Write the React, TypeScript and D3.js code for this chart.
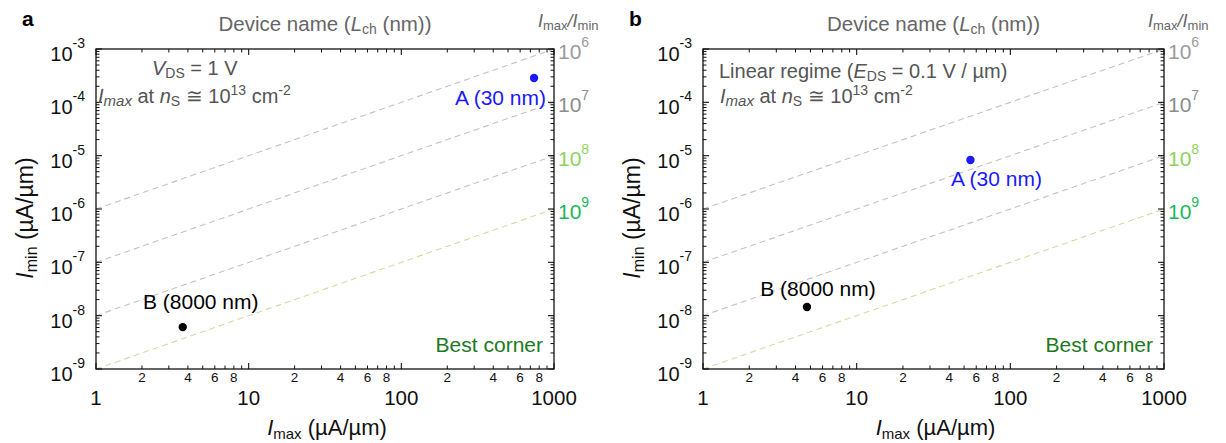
import React from "react";
import * as d3 from "d3";

// ---------- data ----------
const xDomain: [number, number] = [1, 1000];
const yDomain: [number, number] = [1e-9, 1e-3];
const xMajorTicks = [1, 10, 100, 1000];
const yMajorTicks = [1e-3, 1e-4, 1e-5, 1e-6, 1e-7, 1e-8, 1e-9];
const minorMultipliers = [2, 3, 4, 5, 6, 7, 8, 9];
const minorLabelled = [2, 4, 6, 8];

const ratioValues = [1e6, 1e7, 1e8, 1e9];
const ratioLabelColors = ["#9a9a9a", "#8c8c8c", "#8fd35e", "#19b85a"];
const ratioLineColors = ["#c3c3c3", "#c3c3c3", "#c3c3c3", "#cfdca4"];

const panelLetters = ["a", "b"];
const deviceNames = ["A (30 nm)", "B (8000 nm)"];
const deviceColors = ["#1a1aff", "#000000"];
const imaxPanelA = [740, 3.7];
const iminPanelA = [2.85e-4, 6.1e-9];
const imaxPanelB = [55, 4.75];
const iminPanelB = [8.3e-6, 1.45e-8];

// ---------- layout ----------
const FONT = "'Liberation Sans', Arial, Helvetica, sans-serif";
const TOP = 49;
const BOTTOM = 369;

type PanelCfg = {
  left: number;
  width: number;
  imax: number[];
  imin: number[];
  labelOffsets: { dx: number; dy: number; anchor: string }[];
  letter: string;
  kind: "a" | "b";
};

function Panel({ cfg }: { cfg: PanelCfg }) {
  const { left, width, imax, imin, labelOffsets, letter, kind } = cfg;
  const right = left + width;
  const x = d3.scaleLog().domain(xDomain).range([left, right]);
  const y = d3.scaleLog().domain(yDomain).range([BOTTOM, TOP]);

  const xMinor: number[] = [];
  for (let d = 0; d < 3; d++)
    for (const m of minorMultipliers) xMinor.push(m * xMajorTicks[d]);
  const yMinor: number[] = [];
  for (let i = 1; i < yMajorTicks.length; i++)
    for (const m of minorMultipliers) yMinor.push(m * yMajorTicks[i]);

  const majLen = 6;
  const minLen = 3.5;
  const axisColor = "#111";
  const textGrey = "#555";
  const cx = (left + right) / 2;

  return (
    <g>
      {/* panel letter */}
      <text x={left - 74} y={26} fontFamily={FONT} fontWeight="bold" fontSize={21} fill="#000">
        {letter}
      </text>
      {/* top title */}
      <text x={cx} y={31} textAnchor="middle" fontFamily={FONT} fontSize={20.5} fill="#666">
        <tspan>Device name (</tspan>
        <tspan fontStyle="italic">L</tspan>
        <tspan fontSize={14} dy={3}>ch</tspan>
        <tspan dy={-3}> (nm))</tspan>
      </text>
      {/* Imax/Imin */}
      <text x={right - 16} y={27} fontFamily={FONT} fontSize={18} fill="#666">
        <tspan fontStyle="italic">I</tspan>
        <tspan fontSize={13} dy={3}>max</tspan>
        <tspan dy={-3} fontStyle="italic">/I</tspan>
        <tspan fontSize={13} dy={3}>min</tspan>
      </text>

      {/* ratio dashed lines */}
      {ratioValues.map((r, i) => (
        <line
          key={r}
          x1={x(xDomain[0])}
          y1={y(xDomain[0] / r)}
          x2={x(xDomain[1])}
          y2={y(xDomain[1] / r)}
          stroke={ratioLineColors[i]}
          strokeWidth={1.1}
          strokeDasharray="6,4"
        />
      ))}

      {/* frame */}
      <rect x={left} y={TOP} width={width} height={BOTTOM - TOP} fill="none" stroke={axisColor} strokeWidth={1.3} />

      {/* x ticks bottom & top */}
      {xMajorTicks.map((t) => (
        <g key={"xM" + t}>
          <line x1={x(t)} x2={x(t)} y1={BOTTOM} y2={BOTTOM - majLen} stroke={axisColor} strokeWidth={1.1} />
          <line x1={x(t)} x2={x(t)} y1={TOP} y2={TOP + majLen} stroke={axisColor} strokeWidth={1.1} />
          <text x={x(t)} y={405} textAnchor="middle" fontFamily={FONT} fontSize={20.5} fill="#111">
            {t}
          </text>
        </g>
      ))}
      {xMinor.map((t) => {
        const m = Math.round(t / Math.pow(10, Math.floor(Math.log10(t) + 1e-9)));
        return (
          <g key={"xm" + t}>
            <line x1={x(t)} x2={x(t)} y1={BOTTOM} y2={BOTTOM - minLen} stroke={axisColor} strokeWidth={1} />
            <line x1={x(t)} x2={x(t)} y1={TOP} y2={TOP + minLen} stroke={axisColor} strokeWidth={1} />
            {minorLabelled.includes(m) && (
              <text x={x(t)} y={382} textAnchor="middle" fontFamily={FONT} fontSize={13.5} fill="#111">
                {m}
              </text>
            )}
          </g>
        );
      })}

      {/* y ticks left & right */}
      {yMajorTicks.map((t) => {
        const e = Math.round(Math.log10(t));
        return (
          <g key={"yM" + t}>
            <line x1={left} x2={left + majLen} y1={y(t)} y2={y(t)} stroke={axisColor} strokeWidth={1.1} />
            <line x1={right} x2={right - majLen} y1={y(t)} y2={y(t)} stroke={axisColor} strokeWidth={1.1} />
            <text x={left - 11} y={y(t) + 12} textAnchor="end" fontFamily={FONT} fill="#111">
              <tspan fontSize={20}>10</tspan>
              <tspan fontSize={14} dy={-13}>{String(e)}</tspan>
            </text>
          </g>
        );
      })}
      {yMinor.map((t) => (
        <g key={"ym" + t}>
          <line x1={left} x2={left + minLen} y1={y(t)} y2={y(t)} stroke={axisColor} strokeWidth={1} />
          <line x1={right} x2={right - minLen} y1={y(t)} y2={y(t)} stroke={axisColor} strokeWidth={1} />
        </g>
      ))}

      {/* right ratio labels */}
      {ratioValues.map((r, i) => (
        <text key={"rl" + r} x={right + 4} y={y(xDomain[1] / r) + 10} fontFamily={FONT} fill={ratioLabelColors[i]}>
          <tspan fontSize={21}>10</tspan>
          <tspan fontSize={14} dy={-12}>{String(Math.round(Math.log10(r)))}</tspan>
        </text>
      ))}

      {/* axis labels */}
      <text x={cx + 2} y={435} textAnchor="middle" fontFamily={FONT} fontSize={22} fill="#111">
        <tspan fontStyle="italic">I</tspan>
        <tspan fontSize={15} dy={4}>max</tspan>
        <tspan dy={-4}> (µA/µm)</tspan>
      </text>
      <text
        transform={`translate(${left - 63},${218}) rotate(-90)`}
        textAnchor="middle"
        fontFamily={FONT}
        fontSize={23}
        fill="#111"
      >
        <tspan fontStyle="italic">I</tspan>
        <tspan fontSize={16} dy={4}>min</tspan>
        <tspan dy={-4}> (µA/µm)</tspan>
      </text>

      {/* annotations */}
      {kind === "a" ? (
        <text x={left + 56} y={75} fontFamily={FONT} fontSize={20} fill={textGrey}>
          <tspan fontStyle="italic">V</tspan>
          <tspan fontSize={14} dy={3}>DS</tspan>
          <tspan dy={-3}> = 1 V</tspan>
        </text>
      ) : (
        <text x={left + 16} y={78} fontFamily={FONT} fontSize={20} fill={textGrey}>
          <tspan>Linear regime (</tspan>
          <tspan fontStyle="italic">E</tspan>
          <tspan fontSize={14} dy={3}>DS</tspan>
          <tspan dy={-3}> = 0.1 V / µm)</tspan>
        </text>
      )}
      <text x={left + (kind === "a" ? 2 : 17)} y={103} fontFamily={FONT} fontSize={20} fill={textGrey}>
        <tspan fontStyle="italic">I</tspan>
        <tspan fontStyle="italic" fontSize={15} dy={3}>max</tspan>
        <tspan dy={-3}> at </tspan>
        <tspan fontStyle="italic">n</tspan>
        <tspan fontSize={14} dy={3}>S</tspan>
        <tspan dy={-3}> ≅ 10</tspan>
        <tspan fontSize={14} dy={-8}>13</tspan>
        <tspan dy={8}> cm</tspan>
        <tspan fontSize={14} dy={-8}>-2</tspan>
      </text>

      {/* Best corner */}
      <text x={right - 11} y={352} textAnchor="end" fontFamily={FONT} fontSize={21} fill="#1c7a1c">
        Best corner
      </text>

      {/* devices */}
      {imax.map((v, i) => (
        <g key={"d" + i}>
          <circle cx={x(v)} cy={y(imin[i])} r={4.2} fill={deviceColors[i]} />
          <text
            x={x(v) + labelOffsets[i].dx}
            y={y(imin[i]) + labelOffsets[i].dy}
            textAnchor={labelOffsets[i].anchor}
            fontFamily={FONT}
            fontSize={21}
            fill={deviceColors[i]}
          >
            {deviceNames[i]}
          </text>
        </g>
      ))}
    </g>
  );
}

export default function App() {
  const panels: PanelCfg[] = [
    {
      left: 96,
      width: 458,
      imax: imaxPanelA,
      imin: iminPanelA,
      labelOffsets: [
        { dx: 12, dy: 27, anchor: "end" },
        { dx: 18, dy: -18, anchor: "middle" },
      ],
      letter: panelLetters[0],
      kind: "a",
    },
    {
      left: 703,
      width: 461,
      imax: imaxPanelB,
      imin: iminPanelB,
      labelOffsets: [
        { dx: 26, dy: 26, anchor: "middle" },
        { dx: 11, dy: -11, anchor: "middle" },
      ],
      letter: panelLetters[1],
      kind: "b",
    },
  ];
  return (
    <svg
      width={1226}
      height={443}
      viewBox="0 0 1226 443"
      style={{ position: "absolute", left: 0, top: 0, background: "#fff" }}
    >
      {panels.map((p) => (
        <Panel key={p.letter} cfg={p} />
      ))}
    </svg>
  );
}
